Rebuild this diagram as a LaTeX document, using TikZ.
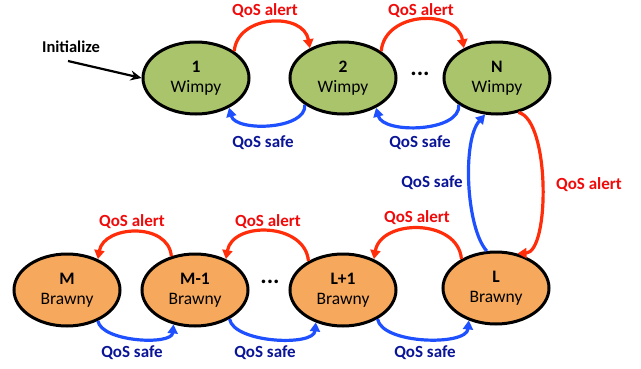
\documentclass[tikz,border=0pt]{standalone}
\usepackage{fontspec}
\setmainfont{Carlito}
\usetikzlibrary{arrows.meta,shapes.geometric}
\definecolor{wimpyfill}{RGB}{170,196,108}
\definecolor{brawnyfill}{RGB}{246,168,92}
\definecolor{alertline}{RGB}{255,45,10}
\definecolor{safeline}{RGB}{30,80,255}
\definecolor{alerttext}{RGB}{240,10,10}
\definecolor{safetext}{RGB}{10,20,150}
\tikzset{
  state/.style={ellipse,draw=black,line width=3pt,minimum width=106pt,minimum height=72pt,inner sep=0pt,align=center,font=\fontsize{17.5}{20}\selectfont},
  wimpy/.style={state,fill=wimpyfill},
  brawny/.style={state,fill=brawnyfill},
  alertarrow/.style={draw=alertline,line width=3.2pt,-{Triangle[length=9pt,width=10pt]}},
  safearrow/.style={draw=safeline,line width=3.2pt,-{Triangle[length=9pt,width=10pt]}},
  alertlabel/.style={text=alerttext,font=\fontsize{17}{20}\selectfont\bfseries},
  safelabel/.style={text=safetext,font=\fontsize{17}{20}\selectfont\bfseries},
  dotsstyle/.style={font=\fontsize{24}{26}\selectfont\bfseries}
}
\begin{document}
\begin{tikzpicture}[x=1pt,y=-1pt]
\useasboundingbox (0,0) rectangle (641,368);
% top row
\node[wimpy] (n1) at (196,78) {\textbf{1}\\Wimpy};
\node[wimpy] (n2) at (343,78) {\textbf{2}\\Wimpy};
\node[wimpy] (nN) at (497,78) {\textbf{N}\\Wimpy};
\node[dotsstyle] (d1) at (420,74) {...};
% bottom row
\node[brawny] (m) at (67,290) {\textbf{M}\\Brawny};
\node[brawny] (m1) at (195,290) {\textbf{M-1}\\Brawny};
\node[brawny] (l1) at (343,290) {\textbf{L+1}\\Brawny};
\node[brawny] (l) at (496,288) {\textbf{L}\\Brawny};
\node[dotsstyle] (d2) at (270,282) {...};
% initialize
\node[font=\fontsize{16.5}{19}\selectfont\bfseries] (init) at (71,47) {Initialize};
\coordinate (initstart) at (68,61);
\draw[line width=2.2pt,-{Stealth[length=11pt,width=10pt,open]}] (initstart) -- (n1.west);
% top transitions
\draw[alertarrow] (n1.35) to[out=85,in=100,looseness=1.25] (n2.138);
\draw[safearrow] (n2.215) to[out=-85,in=-75,looseness=0.85] (n1.318);
\draw[alertarrow] (n2.35) to[out=85,in=100,looseness=1.25] (nN.138);
\draw[safearrow] (nN.215) to[out=-85,in=-75,looseness=0.85] (n2.318);
\node[alertlabel] (la1) at (265,11) {QoS alert};
\node[alertlabel] (la2) at (421,11) {QoS alert};
\node[safelabel] (ls1) at (263,143) {QoS safe};
\node[safelabel] (ls2) at (420,143) {QoS safe};
% vertical transitions
\draw[alertarrow] (nN.-58) .. controls (550,120) and (550,252) .. (l.58);
\draw[safearrow] (l.104) .. controls (466,228) and (462,140) .. (nN.252);
\node[alertlabel] (la3) at (589,185) {QoS alert};
\node[safelabel] (ls3) at (432,183) {QoS safe};
% bottom transitions
\draw[alertarrow] (m1.125) to[out=95,in=80,looseness=1.2] (m.45);
\draw[alertarrow] (l1.140) to[out=95,in=80,looseness=1.2] (m1.45);
\draw[alertarrow] (l.140) to[out=95,in=80,looseness=1.2] (l1.45);
\draw[safearrow] (m.-45) to[out=-80,in=-95,looseness=0.72] (m1.-122);
\draw[safearrow] (m1.-40) to[out=-80,in=-95,looseness=0.72] (l1.-130);
\draw[safearrow] (l1.-40) to[out=-80,in=-95,looseness=0.72] (l.-130);
\node[alertlabel] (la4) at (132,222) {QoS alert};
\node[alertlabel] (la5) at (268,222) {QoS alert};
\node[alertlabel] (la6) at (417,218) {QoS alert};
\node[safelabel] (ls4) at (132,353) {QoS safe};
\node[safelabel] (ls5) at (265,353) {QoS safe};
\node[safelabel] (ls6) at (425,353) {QoS safe};
\end{tikzpicture}
\end{document}
